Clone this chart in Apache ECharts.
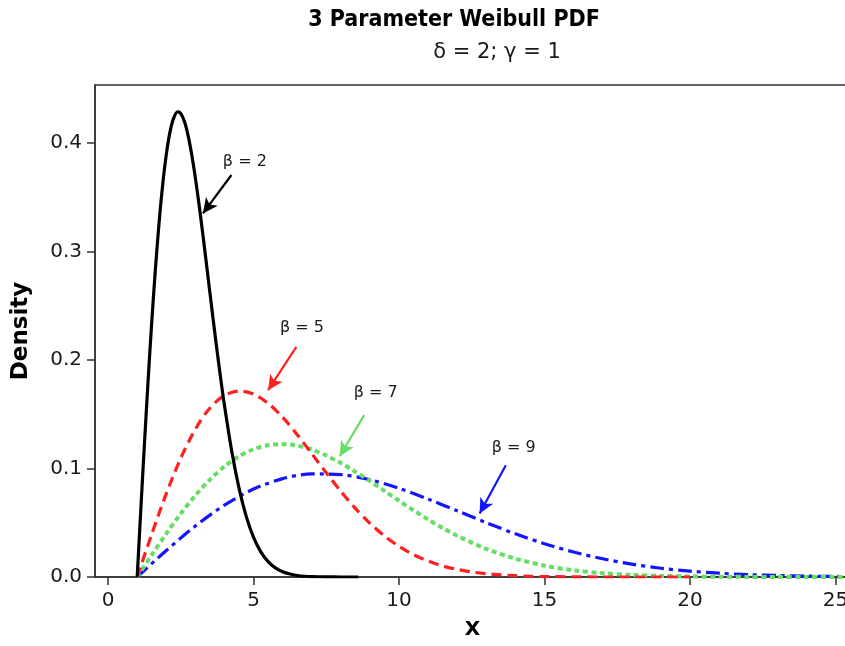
<!DOCTYPE html>
<html>
<head>
<meta charset="utf-8">
<script src="https://cdn.jsdelivr.net/npm/echarts@6/dist/echarts.min.js"></script>
<style>
  html, body { margin: 0; padding: 0; background: #fff; }
  #chart { width: 845px; height: 646px; }
</style>
</head>
<body>
<div id="chart"></div>
<script>
// Weibull densities (shape 2, threshold 1) for four scale values
const beta2X = [1, 1.125, 1.25, 1.375, 1.5, 1.625, 1.75, 1.875, 2, 2.125, 2.25, 2.4, 2.5, 2.625, 2.75, 2.875, 3, 3.125, 3.25, 3.375, 3.5, 3.625, 3.75, 3.875, 4, 4.25, 4.5, 4.75, 5, 5.25, 5.5, 5.75, 6, 6.25, 6.5, 6.75, 7, 7.5, 8, 8.6];
const beta2Y = [0, 0.0623, 0.1231, 0.1810, 0.2349, 0.2834, 0.3258, 0.3613, 0.3894, 0.4099, 0.4229, 0.4288, 0.4273, 0.4199, 0.4069, 0.3893, 0.3679, 0.3436, 0.3173, 0.2899, 0.2620, 0.2344, 0.2076, 0.1820, 0.1581, 0.1159, 0.0819, 0.0557, 0.0366, 0.0232, 0.0142, 0.0084, 0.0048, 0.0027, 0.0014, 0.0007, 0.0004, 0.0001, 0.0000, 0];

const beta5X = [1, 1.5, 2, 2.5, 3, 3.5, 4, 4.5, 5, 5.5, 6, 6.5, 7, 7.5, 8, 8.5, 9, 9.5, 10, 10.5, 11, 11.5, 12, 12.5, 13, 13.5, 14, 14.5, 15, 15.5, 16, 17, 18, 20];
const beta5Y = [0, 0.0396, 0.0769, 0.1097, 0.1363, 0.1558, 0.1674, 0.1715, 0.1687, 0.1601, 0.1472, 0.1312, 0.1137, 0.0960, 0.0789, 0.0632, 0.0495, 0.0378, 0.0282, 0.0206, 0.0147, 0.0102, 0.0070, 0.0046, 0.0030, 0.0019, 0.0012, 0.0007, 0.0004, 0.0003, 0.0001, 0.0000, 0.0000, 0];

const beta7X = [1, 1.5, 2, 2.5, 3, 3.5, 4, 4.5, 5, 5.5, 6, 6.5, 7, 7.5, 8, 8.5, 9, 9.5, 10, 10.5, 11, 11.5, 12, 13, 14, 15, 16, 17, 18, 19, 20, 21, 22, 23, 24, 25, 26];
const beta7Y = [0, 0.0203, 0.0400, 0.0585, 0.0752, 0.0898, 0.1019, 0.1113, 0.1178, 0.1215, 0.1225, 0.1211, 0.1175, 0.1120, 0.1051, 0.0971, 0.0884, 0.0794, 0.0703, 0.0615, 0.0530, 0.0452, 0.0380, 0.0259, 0.0169, 0.0105, 0.0062, 0.0035, 0.0019, 0.0010, 0.0005, 0.0002, 0.0001, 0.00005, 0.00002, 0.00001, 0.000003];

const beta9X = [1, 2, 3, 4, 5, 6, 7, 8, 9, 10, 11, 12, 13, 14, 15, 16, 17, 18, 19, 20, 21, 22, 23, 24, 25, 26];
const beta9Y = [0, 0.0244, 0.0470, 0.0663, 0.0811, 0.0907, 0.0950, 0.0944, 0.0896, 0.0818, 0.0718, 0.0610, 0.0501, 0.0398, 0.0307, 0.0230, 0.0168, 0.0118, 0.0081, 0.0054, 0.0035, 0.0022, 0.0014, 0.0008, 0.0005, 0.0003];

const xTicks = [0, 5, 10, 15, 20, 25];
const yTicks = [0, 0.1, 0.2, 0.3, 0.4];

// curve labels: text, label position, arrow start, arrow tip (data units)
const labelText = ['β = 2', 'β = 5', 'β = 7', 'β = 9'];
const labelAt = [[4.70, 0.383], [6.66, 0.230], [9.20, 0.1695], [13.94, 0.1187]];
const arrowFrom = [[4.24, 0.3706], [6.47, 0.2122], [8.80, 0.1492], [13.67, 0.1030]];
const arrowTo = [[3.26, 0.3352], [5.50, 0.1722], [7.96, 0.1113], [12.77, 0.0585]];

const FONT = '"DejaVu Sans", Verdana, sans-serif';
const FONT_COND = '"DejaVu Sans Condensed", "DejaVu Sans", sans-serif';
const colors = ['#000000', '#ff1f1f', '#66dd66', '#1414ff'];
const dashes = ['solid', [10, 6], [5, 3.5], [14, 5, 4, 5]];
const widths = [3.2, 3.2, 4, 3.2];
const xs = [beta2X, beta5X, beta7X, beta9X];
const ys = [beta2Y, beta5Y, beta7Y, beta9Y];

const zip = (a, b) => a.map((v, i) => [v, b[i]]);

const series = xs.map((xArr, k) => ({
  type: 'line',
  data: zip(xArr, ys[k]),
  showSymbol: false,
  symbol: 'none',
  smooth: 0.3,
  clip: true,
  z: 10 - k,
  lineStyle: { color: colors[k], width: widths[k], type: dashes[k], cap: 'butt', join: 'round' },
  markLine: {
    silent: true,
    symbol: ['none', 'arrow'],
    symbolSize: [11, 15],
    label: { show: false },
    lineStyle: { color: colors[k], width: 2.2, type: 'solid' },
    data: [[{ coord: arrowFrom[k] }, { coord: arrowTo[k] }]]
  },
  markPoint: {
    silent: true,
    symbol: 'circle',
    symbolSize: 0,
    data: [{ coord: labelAt[k], value: labelText[k] }],
    label: {
      show: true,
      position: 'inside',
      formatter: labelText[k],
      color: '#1a1a1a',
      fontFamily: FONT,
      fontSize: 16
    }
  }
}));

const chart = echarts.init(document.getElementById('chart'), null, { renderer: 'canvas' });
chart.setOption({
  animation: false,
  backgroundColor: '#ffffff',
  title: [
    {
      text: '3 Parameter Weibull PDF',
      left: 454, top: 9, padding: 0, textAlign: 'center',
      textStyle: { fontFamily: FONT_COND, fontWeight: 'bold', fontSize: 23, color: '#000' }
    },
    {
      text: 'δ = 2; γ = 1',
      left: 497, top: 42, padding: 0, textAlign: 'center',
      textStyle: { fontFamily: FONT, fontWeight: 'normal', fontSize: 21, color: '#1a1a1a' }
    }
  ],
  grid: {
    left: 95, top: 85, right: -5, bottom: 69,
    outerBoundsMode: 'none',
    show: true, borderColor: '#333', borderWidth: 1.5, backgroundColor: 'transparent'
  },
  xAxis: {
    type: 'value',
    min: -0.45, max: 25.5,
    name: 'X',
    nameLocation: 'middle',
    nameGap: 43,
    nameTextStyle: { fontFamily: FONT, fontWeight: 'bold', fontSize: 20, color: '#000' },
    axisLine: { show: true, onZero: false, lineStyle: { color: '#333', width: 1.5 } },
    axisTick: { show: true, length: 8, inside: false, customValues: xTicks, lineStyle: { color: '#333', width: 1.5 } },
    axisLabel: { customValues: xTicks, margin: 14, fontFamily: FONT, fontSize: 20, color: '#1a1a1a' },
    splitLine: { show: false }
  },
  yAxis: {
    type: 'value',
    min: 0, max: 0.4536,
    name: 'Density',
    nameLocation: 'middle',
    nameRotate: 90,
    nameGap: 62,
    nameTextStyle: { fontFamily: FONT, fontWeight: 'bold', fontSize: 23, color: '#000' },
    axisLine: { show: true, onZero: false, lineStyle: { color: '#333', width: 1.5 } },
    axisTick: { show: true, length: 8, inside: false, customValues: yTicks, lineStyle: { color: '#333', width: 1.5 } },
    axisLabel: {
      customValues: yTicks, margin: 13, fontFamily: FONT, fontSize: 20, color: '#1a1a1a',
      formatter: v => v.toFixed(1)
    },
    splitLine: { show: false }
  },
  series: series
});
</script>
</body>
</html>
